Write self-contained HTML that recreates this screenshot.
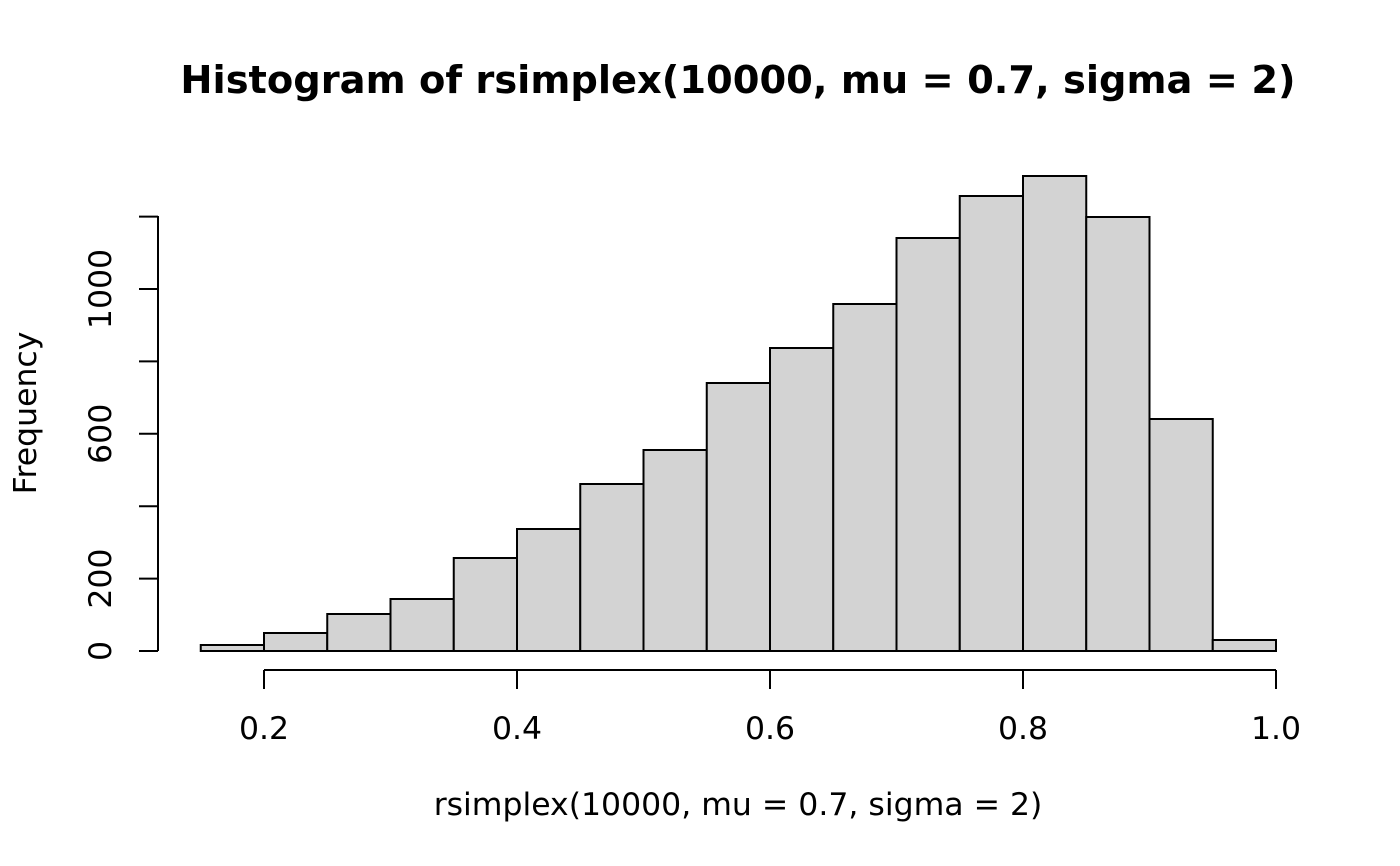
<!DOCTYPE html>
<html><head><meta charset="utf-8"><style>
html,body{margin:0;padding:0;background:#fff;}
svg{display:block;}
text{font-family:"DejaVu Sans","Liberation Sans",sans-serif;fill:#000;}
</style></head><body>
<svg width="1400" height="866" viewBox="0 0 1400 866" xmlns="http://www.w3.org/2000/svg">
<text x="738" y="93" font-size="38.4" font-weight="bold" text-anchor="middle">Histogram of rsimplex(10000, mu = 0.7, sigma = 2)</text>
<g fill="#d3d3d3" stroke="#000" stroke-width="2">
<rect x="200.75" y="645" width="63.25" height="6"/>
<rect x="264" y="633" width="63.25" height="18"/>
<rect x="327.25" y="614" width="63.25" height="37"/>
<rect x="390.5" y="599" width="63.25" height="52"/>
<rect x="453.75" y="558" width="63.25" height="93"/>
<rect x="517" y="529" width="63.25" height="122"/>
<rect x="580.25" y="484" width="63.25" height="167"/>
<rect x="643.5" y="450" width="63.25" height="201"/>
<rect x="706.75" y="383" width="63.25" height="268"/>
<rect x="770" y="348" width="63.25" height="303"/>
<rect x="833.25" y="304" width="63.25" height="347"/>
<rect x="896.5" y="238" width="63.25" height="413"/>
<rect x="959.75" y="196" width="63.25" height="455"/>
<rect x="1023" y="176" width="63.25" height="475"/>
<rect x="1086.25" y="217" width="63.25" height="434"/>
<rect x="1149.5" y="419" width="63.25" height="232"/>
<rect x="1212.75" y="640" width="63.25" height="11"/>
</g>
<g stroke="#000" stroke-width="2" fill="none">
<line x1="264" y1="670" x2="1276" y2="670"/>
<line x1="264" y1="670" x2="264" y2="689"/>
<line x1="517" y1="670" x2="517" y2="689"/>
<line x1="770" y1="670" x2="770" y2="689"/>
<line x1="1023" y1="670" x2="1023" y2="689"/>
<line x1="1276" y1="670" x2="1276" y2="689"/>
<line x1="158" y1="651" x2="158" y2="216"/>
<line x1="139" y1="651" x2="158" y2="651"/>
<line x1="139" y1="578.6" x2="158" y2="578.6"/>
<line x1="139" y1="506.2" x2="158" y2="506.2"/>
<line x1="139" y1="433.8" x2="158" y2="433.8"/>
<line x1="139" y1="361.4" x2="158" y2="361.4"/>
<line x1="139" y1="289" x2="158" y2="289"/>
<line x1="139" y1="216.6" x2="158" y2="216.6"/>
</g>
<g font-size="31.5" text-anchor="middle">
<text x="264" y="739">0.2</text>
<text x="517" y="739">0.4</text>
<text x="770" y="739">0.6</text>
<text x="1023" y="739">0.8</text>
<text x="1276" y="739">1.0</text>
<text x="738" y="815">rsimplex(10000, mu = 0.7, sigma = 2)</text>
<text transform="translate(111,651) rotate(-90)">0</text>
<text transform="translate(111,578.6) rotate(-90)">200</text>
<text transform="translate(111,433.8) rotate(-90)">600</text>
<text transform="translate(111,289) rotate(-90)">1000</text>
<text transform="translate(36,413) rotate(-90)">Frequency</text>
</g>
</svg>
</body></html>
